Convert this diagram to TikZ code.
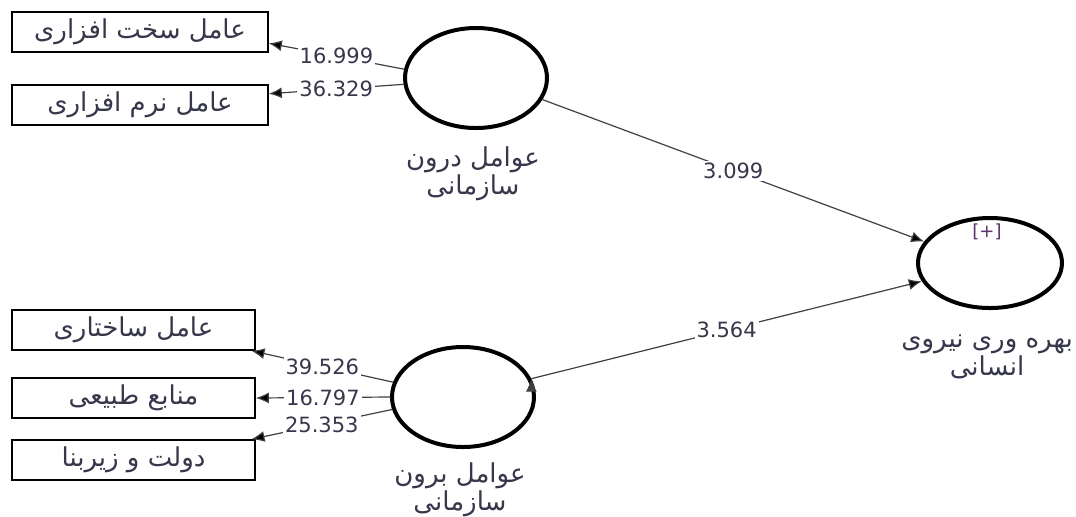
\documentclass[tikz,border=0pt]{standalone}
\usepackage{fontspec}
\setmainfont{DejaVu Sans}
\newfontfamily\arabicfont[Script=Arabic]{DejaVu Sans}
\TeXXeTstate=1
\usepackage{tikz}
\usetikzlibrary{shapes.geometric,arrows.meta}
\definecolor{txtgris}{RGB}{55,55,75}
\definecolor{plusviolet}{RGB}{90,50,110}
\tikzset{
  latent/.style={ellipse,draw=black,line width=2pt,fill=white,inner sep=0pt,minimum width=71pt,minimum height=50pt},
  indic/.style={rectangle,draw=black,line width=0.8pt,text=txtgris,minimum height=20pt,inner sep=2pt,font=\fontsize{13}{13}\selectfont\arabicfont},
  nom/.style={align=center,text=txtgris,font=\fontsize{13}{12}\selectfont\arabicfont},
  wlab/.style={fill=white,inner sep=1pt,text=txtgris,font=\fontsize{10.5}{12}\selectfont},
  line/.style={draw=black!75,line width=0.6pt,-{Latex[length=6.5pt,width=5.5pt]}},
}
\newcommand{\rtl}[1]{\beginR #1\endR}

\begin{document}
\begin{tikzpicture}[x=0.5pt,y=-0.5pt]
   \useasboundingbox (0,0) rectangle (1076,516);
   % indicateurs
   \node[indic,minimum width=128pt] (hard) at (140,32) {\rtl{عامل سخت افزاری}};
   \node[indic,minimum width=128pt] (soft) at (140,105) {\rtl{عامل نرم افزاری}};
   \node[indic,minimum width=121.5pt] (struct) at (133.5,330) {\rtl{عامل ساختاری}};
   \node[indic,minimum width=121.5pt] (nat) at (133.5,398) {\rtl{منابع طبیعی}};
   \node[indic,minimum width=121.5pt] (gov) at (133.5,460) {\rtl{دولت و زیربنا}};
   % variables latentes
   \node[latent] (inner) at (476,78) {};
   \node[latent] (outer) at (463,397) {};
   \node[latent,minimum width=72pt,minimum height=45pt] (prod) at (990,263) {};
   \node[nom] (innerlab) at (473,174) {\rtl{عوامل درون}\\\rtl{سازمانی}};
   \node[nom] (outerlab) at (460,490) {\rtl{عوامل برون}\\\rtl{سازمانی}};
   \node[nom] (prodlab) at (987,357) {\rtl{بهره وری نیروی}\\\rtl{انسانی}};
   \node[text=plusviolet,font=\fontsize{9}{10}\selectfont] (plus) at (987,232) {[+]};

  \path[line]
    (inner.173.6) edge node[wlab] {16.999} (hard.-5.7)
    (inner.185.6) edge node[wlab] {36.329} (soft.5.3)
    (outer.168) edge node[wlab] {39.526} (struct.-10)
    (outer.180) edge node[wlab] {16.797} (nat.east)
    (outer.190) edge node[wlab] {25.353} (gov.10)
    (inner.-18.7) edge node[wlab] {3.099} (prod.162)
    (outer.15) edge node[wlab] {3.564} (prod.195);
\end{tikzpicture}
\end{document}
